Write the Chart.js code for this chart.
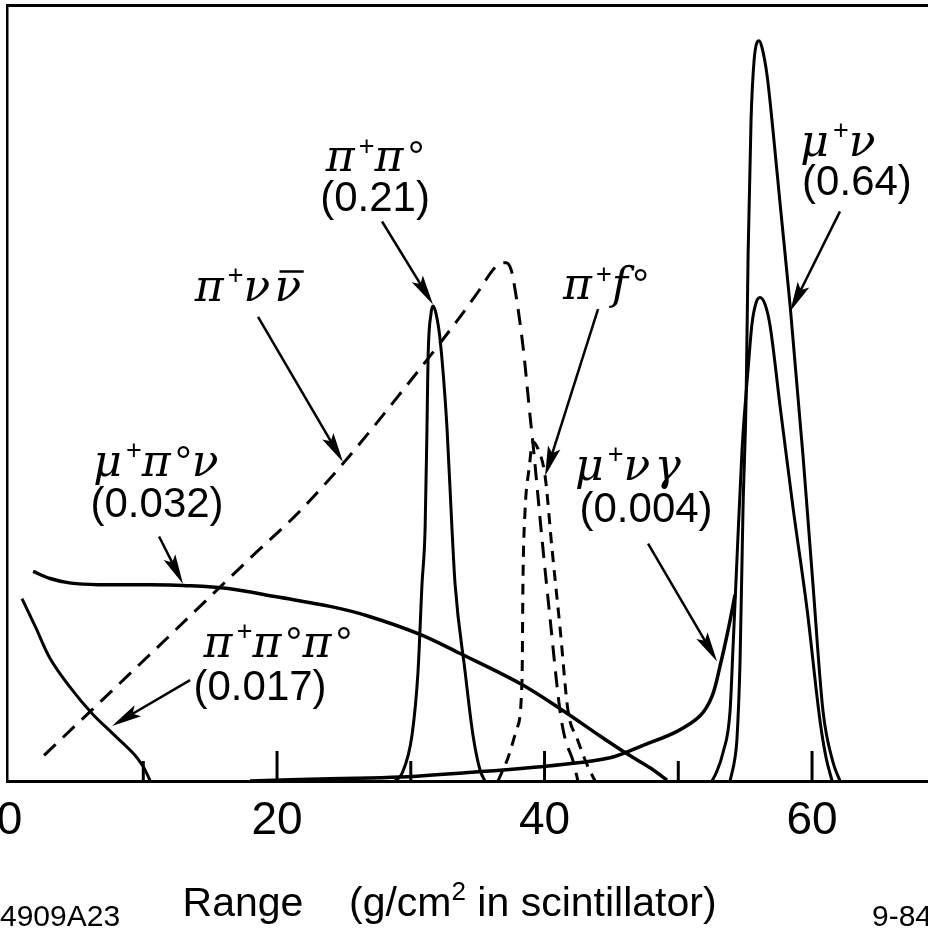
<!DOCTYPE html>
<html>
<head>
<meta charset="utf-8">
<script src="https://cdn.jsdelivr.net/npm/chart.js@4.4.1/dist/chart.umd.min.js"></script>
<style>
  html, body { margin: 0; padding: 0; background: #fff; overflow: hidden; }
  #wrap { position: relative; width: 928px; height: 934px; }
</style>
</head>
<body>
<div id="wrap"><canvas id="chart"></canvas></div>
<script>
// Range axis (g/cm2 in scintillator)
const xTickValues = [0, 10, 20, 30, 40, 50, 60];
const xTickLabels = ['0', '', '20', '', '40', '', '60'];

// mu+ nu (0.64) - two curves
const muNuTallX = [53.87, 54.24, 54.39, 54.62, 54.84, 55.07, 55.22, 55.44, 55.66, 55.89, 56.04, 56.26, 56.64, 57.1, 57.61, 58.36, 59.33, 60.07, 60.82, 61.57, 62.09];
const muNuTallY = [0, 3.0, 5.5, 15.6, 35.2, 49.2, 67.9, 85.2, 92.7, 95.2, 95.4, 94.5, 90.9, 83.5, 74.4, 61.3, 41.8, 25.3, 9.0, 2.4, 0];
const muNuLowX = [52.52, 52.82, 53.35, 53.87, 54.09, 54.39, 54.77, 55.22, 55.51, 55.81, 56.11, 56.49, 56.86, 57.61, 58.58, 59.63, 60.60, 61.05, 61.50];
const muNuLowY = [0, 1.0, 3.7, 9.0, 17.1, 28.7, 42.8, 53.1, 58.9, 61.6, 62.3, 61.4, 58.7, 48.3, 35.2, 22.1, 7.7, 3.0, 0];

// mu+ nu gamma (0.004)
const muNuGammaX = [17.98, 23.96, 29.2, 36.67, 41.16, 44.9, 47.37, 49.91, 51.63, 52.52, 53.12, 53.72, 54.24];
const muNuGammaY = [0, 0.3, 0.5, 1.4, 2.1, 3.0, 4.6, 6.4, 8.4, 10.9, 14.8, 19.4, 24.0];

// pi+ pi0 (0.21)
const piPi0X = [28.82, 29.35, 30.09, 30.54, 30.84, 31.07, 31.21, 31.29, 31.51, 31.66, 31.89, 32.19, 32.71, 33.08, 33.31, 34.06, 34.65, 35.18, 35.55];
const piPi0Y = [0, 1.0, 5.9, 14.1, 25.4, 32.5, 45.4, 54.4, 60.2, 61.2, 60.2, 56.9, 45.4, 32.5, 25.4, 14.1, 5.9, 1.4, 0];

// mu+ pi0 nu (0.032)
const muPi0NuX = [1.76, 3.03, 4.60, 6.77, 10.50, 12.97, 16.34, 20.07, 23.96, 26.73, 30.69, 33.61, 38.24, 41.53, 44.15, 46.17, 47.89, 49.16];
const muPi0NuY = [27.0, 26.1, 25.5, 25.3, 25.3, 25.2, 24.8, 23.7, 22.5, 21.3, 18.9, 16.5, 12.5, 8.9, 5.8, 3.5, 1.7, 0.1];

// pi+ pi0 pi0 (0.017)
const piPi0Pi0X = [0.93, 1.98, 3.03, 4.52, 6.17, 7.66, 9.23, 9.98, 10.5];
const piPi0Pi0Y = [23.5, 19.7, 15.8, 12.1, 8.7, 6.2, 3.6, 1.9, 0.1];

// pi+ nu nubar (dashed)
const piNuNuX = [2.58, 10.50, 17.98, 21.72, 24.93, 29.20, 33.46, 35.18, 36.07, 36.67, 37.12, 37.50, 37.79, 38.39, 38.92, 39.14, 39.81, 40.41, 41.16, 41.53, 42.13, 42.50];
const piNuNuY = [3.3, 16.3, 28.7, 34.8, 40.9, 49.9, 59.3, 63.4, 65.7, 66.7, 66.8, 65.9, 63.4, 56.0, 47.0, 43.4, 31.2, 21.0, 9.0, 5.5, 2.6, 0];

// pi+ f0 (dashed)
const piF0X = [36.52, 37.27, 37.94, 38.32, 38.39, 38.54, 38.84, 39.14, 39.51, 40.04, 40.56, 41.16, 41.76, 42.43, 43.18, 43.78];
const piF0Y = [0, 3.0, 6.8, 13.2, 26.1, 34.7, 40.2, 43.7, 42.8, 39.3, 29.9, 19.7, 9.0, 5.5, 2.1, 0];

// arrows: tail -> head, in data units
const arrowFromX = [27.85, 62.09, 18.58, 44.0, 11.18, 47.74, 13.50];
const arrowFromY = [72.1, 73.4, 59.8, 60.8, 31.5, 30.6, 13.0];
const arrowToX = [31.66, 58.36, 24.93, 40.04, 12.97, 52.9, 7.66];
const arrowToY = [61.4, 60.5, 41.1, 39.3, 25.4, 15.4, 7.1];

// decay mode labels; kinds: g = greek italic, u = superscript, d = degree, b = barred greek, n = plain
const labelX = [27.33, 27.33, 62.09, 63.36, 17.98, 44.6, 11.10, 11.03, 46.39, 47.59, 20.07, 18.73];
const labelY = [80.3, 75.2, 82.3, 77.2, 63.6, 63.8, 41.0, 35.7, 40.5, 35.1, 17.7, 12.2];
const labelParts = [
    [['π', 'g'], ['+', 'u'], ['π', 'g'], ['°', 'd']],
    [['(0.21)', 'n']],
    [['μ', 'g'], ['+', 'u'], ['ν', 'g']],
    [['(0.64)', 'n']],
    [['π', 'g'], ['+', 'u'], ['ν', 'g'], ['ν', 'b']],
    [['π', 'g'], ['+', 'u'], ['f', 'g'], ['°', 'd']],
    [['μ', 'g'], ['+', 'u'], ['π', 'g'], ['°', 'd'], ['ν', 'g']],
    [['(0.032)', 'n']],
    [['μ', 'g'], ['+', 'u'], ['ν', 'g'], ['γ', 'g']],
    [['(0.004)', 'n']],
    [['π', 'g'], ['+', 'u'], ['π', 'g'], ['°', 'd'], ['π', 'g'], ['°', 'd']],
    [['(0.017)', 'n']]
];

const SANS = '"Liberation Sans", Arial, sans-serif';
const GREEK = '"DejaVu Serif", serif';
const TICK_FONT = 46;
const TICK_LH = 1.65;
const TICK_PAD = 2;

function toPoints(xs, ys) {
    return xs.map((x, i) => ({ x: x, y: ys[i] }));
}

function partFont(kind, size) {
    if (kind === 'g' || kind === 'b') return 'italic ' + Math.round(size * 1.05) + 'px ' + GREEK;
    if (kind === 'u') return Math.round(size * 0.64) + 'px ' + SANS;
    return size + 'px ' + SANS;
}

// draws a row of text pieces centred on (cx, cy)
function drawRich(ctx, parts, cx, cy, size) {
    let total = 0;
    const widths = parts.map(p => {
        ctx.font = partFont(p[1], size);
        const w = ctx.measureText(p[0]).width + (p[1] === 'g' || p[1] === 'b' ? size * 0.1 : 0);
        total += w;
        return w;
    });
    let cursor = cx - total / 2;
    ctx.textAlign = 'left';
    ctx.textBaseline = 'alphabetic';
    const base = cy + size * 0.32;
    parts.forEach((p, i) => {
        ctx.font = partFont(p[1], size);
        const yy = p[1] === 'u' ? base - size * 0.4 : base;
        ctx.fillText(p[0], cursor, yy);
        if (p[1] === 'b') {
            ctx.lineWidth = 2.5;
            ctx.beginPath();
            ctx.moveTo(cursor + size * 0.12, base - size * 0.7);
            ctx.lineTo(cursor + widths[i] - size * 0.04, base - size * 0.7);
            ctx.stroke();
        }
        cursor += widths[i];
    });
}

function drawArrow(ctx, x1, y1, x2, y2) {
    const ang = Math.atan2(y2 - y1, x2 - x1);
    const c = Math.cos(ang), s = Math.sin(ang);
    const len = 30, half = 6.5;
    ctx.lineWidth = 2.5;
    ctx.beginPath();
    ctx.moveTo(x1, y1);
    ctx.lineTo(x2 - c * len * 0.7, y2 - s * len * 0.7);
    ctx.stroke();
    ctx.beginPath();
    ctx.moveTo(x2, y2);
    ctx.lineTo(x2 - c * len + s * half, y2 - s * len - c * half);
    ctx.lineTo(x2 - c * len * 0.8, y2 - s * len * 0.8);
    ctx.lineTo(x2 - c * len - s * half, y2 - s * len + c * half);
    ctx.closePath();
    ctx.fill();
}

const annotationPlugin = {
    id: 'annotations',
    afterDatasetsDraw(chart) {
        const { ctx, chartArea } = chart;
        const x = chart.scales.x, y = chart.scales.y;
        ctx.save();
        ctx.fillStyle = '#000';
        ctx.strokeStyle = '#000';

        // inward tick marks on the range axis
        ctx.lineWidth = 3;
        xTickValues.forEach(v => {
            if (v === 0) return;
            const px = x.getPixelForValue(v);
            const len = v % 20 === 0 ? 30 : 20;
            ctx.beginPath();
            ctx.moveTo(px, chartArea.bottom);
            ctx.lineTo(px, chartArea.bottom - len);
            ctx.stroke();
        });

        // arrows
        arrowFromX.forEach((fx, i) => {
            drawArrow(ctx,
                x.getPixelForValue(fx), y.getPixelForValue(arrowFromY[i]),
                x.getPixelForValue(arrowToX[i]), y.getPixelForValue(arrowToY[i]));
        });

        // decay mode labels
        labelParts.forEach((parts, i) => {
            drawRich(ctx, parts, x.getPixelForValue(labelX[i]), y.getPixelForValue(labelY[i]), 42);
        });
        ctx.restore();
    },
    afterDraw(chart) {
        const { ctx, chartArea } = chart;
        const x = chart.scales.x;
        ctx.save();
        ctx.fillStyle = '#000';
        // the "0" label sits at the frame, drawn here so it does not push the plot area
        ctx.font = TICK_FONT + 'px ' + SANS;
        ctx.textAlign = 'center';
        ctx.textBaseline = 'middle';
        ctx.fillText(xTickLabels[0], x.getPixelForValue(0), chartArea.bottom + TICK_PAD + TICK_FONT * TICK_LH / 2);

        // axis title
        const titleY = chartArea.bottom + 135;
        drawRich(ctx, [['Range', 'n'], ['    ', 'n'], ['(g/cm', 'n'], ['2', 'u'], [' in scintillator)', 'n']],
            x.getPixelForValue(32.9), titleY - 41 * 0.32, 41);

        // figure ids
        ctx.font = '30px ' + SANS;
        ctx.textBaseline = 'alphabetic';
        ctx.textAlign = 'left';
        ctx.fillText('4909A23', 0, chartArea.bottom + 145);
        ctx.fillText('9-84', 872, chartArea.bottom + 145);
        ctx.restore();
    }
};

document.addEventListener('DOMContentLoaded', function() {
    Chart.defaults.font.family = SANS;
    Chart.defaults.color = '#000';

    // peaks use monotone curves so they do not overshoot, broad spectra use a plain spline
    const solid = (label, xs, ys, width, smooth) => ({
        label: label,
        data: toPoints(xs, ys),
        borderColor: '#000',
        borderWidth: width,
        pointRadius: 0,
        fill: false,
        cubicInterpolationMode: smooth ? 'default' : 'monotone',
        tension: smooth ? 0.35 : 0
    });
    const dashed = (label, xs, ys, dash) => Object.assign(solid(label, xs, ys, 3, false), { borderDash: dash });

    new Chart(document.getElementById('chart'), {
        type: 'line',
        data: {
            datasets: [
                solid('μ+ν', muNuTallX, muNuTallY, 3, false),
                solid('μ+ν low', muNuLowX, muNuLowY, 3, false),
                solid('μ+νγ', muNuGammaX, muNuGammaY, 3.5, true),
                solid('π+π0', piPi0X, piPi0Y, 3, false),
                solid('μ+π0ν', muPi0NuX, muPi0NuY, 3.5, true),
                solid('π+π0π0', piPi0Pi0X, piPi0Pi0Y, 3, true),
                dashed('π+νν', piNuNuX, piNuNuY, [16, 10]),
                dashed('π+f0', piF0X, piF0Y, [11, 8])
            ]
        },
        options: {
            responsive: true,
            maintainAspectRatio: false,
            devicePixelRatio: 1,
            animation: false,
            layout: {
                padding: { left: 7, top: 5, right: 0, bottom: 934 - 783 - (TICK_PAD + TICK_FONT * TICK_LH) }
            },
            plugins: {
                legend: { display: false },
                tooltip: { enabled: false }
            },
            scales: {
                x: {
                    type: 'linear',
                    position: 'bottom',
                    min: -0.19,
                    max: 68.67,
                    afterBuildTicks: axis => {
                        axis.ticks = xTickValues.map(v => ({ value: v }));
                    },
                    ticks: {
                        autoSkip: false,
                        maxRotation: 0,
                        padding: TICK_PAD,
                        font: { size: TICK_FONT, lineHeight: TICK_LH },
                        callback: (value, index) => (value === 0 ? '' : xTickLabels[index])
                    },
                    grid: { display: false, drawTicks: false },
                    border: { display: true, color: '#000', width: 3 }
                },
                xTop: {
                    type: 'linear',
                    position: 'top',
                    ticks: { display: false },
                    grid: { display: false, drawTicks: false },
                    border: { display: true, color: '#000', width: 3 }
                },
                y: {
                    min: 0,
                    max: 100,
                    ticks: { display: false },
                    grid: { display: false, drawTicks: false },
                    border: { display: true, color: '#000', width: 2.5 }
                }
            }
        },
        plugins: [annotationPlugin]
    });
});
</script>
</body>
</html>
